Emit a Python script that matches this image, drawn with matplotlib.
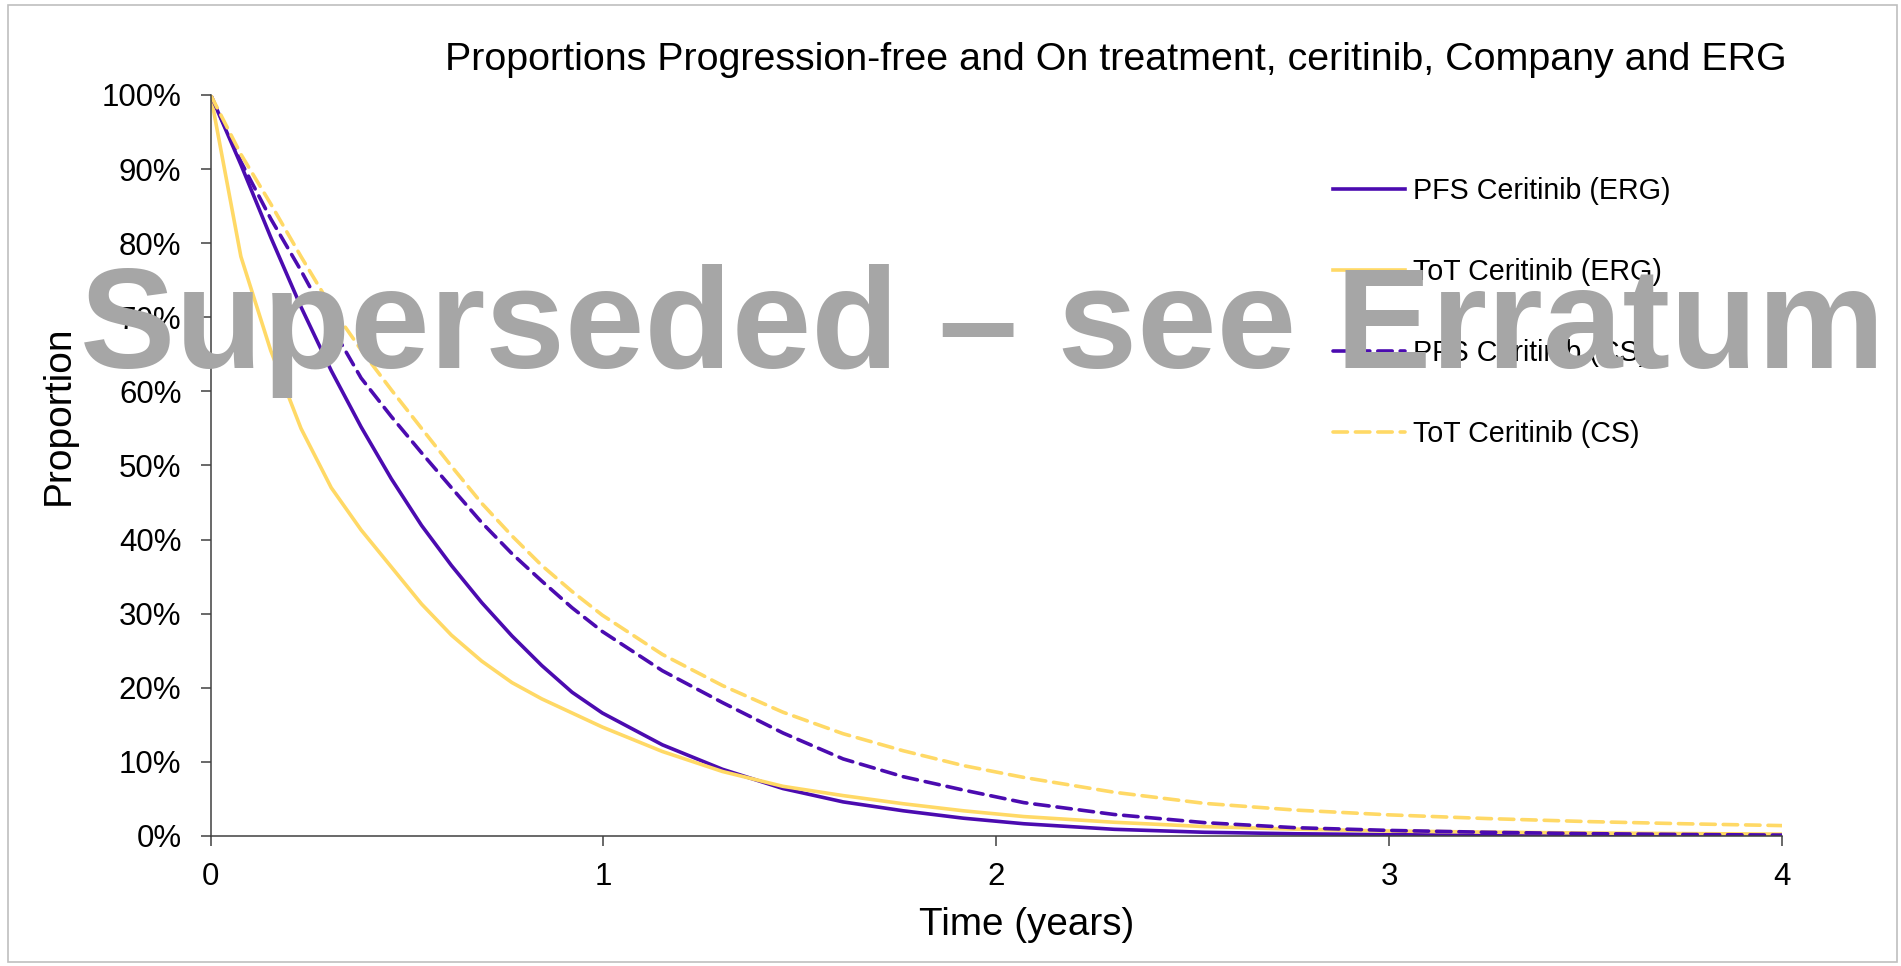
import matplotlib
matplotlib.use("Agg")
import matplotlib.pyplot as plt
from matplotlib.patches import Rectangle
from matplotlib.ticker import PercentFormatter

plt.rcParams['font.family'] = ['Liberation Sans', 'DejaVu Sans']

# time points (years), roughly 4-weekly cycles early on, coarser in the tail
time_years = [0, 0.077, 0.153, 0.23, 0.307, 0.383, 0.46, 0.537, 0.613, 0.69,
              0.767, 0.843, 0.92, 0.997, 1.15, 1.303, 1.457, 1.61, 1.763,
              1.916, 2.07, 2.3, 2.53, 2.76, 3.0, 3.25, 3.5, 3.75, 4.0]

# proportions (%)
pfs_erg = [100, 90.6, 80.8, 71.4, 62.8, 55.2, 48.2, 41.9, 36.5, 31.5,
           27.0, 23.0, 19.4, 16.6, 12.3, 9.0, 6.4, 4.6, 3.4,
           2.4, 1.65, 0.9, 0.5, 0.3, 0.18, 0.1, 0.06, 0.04, 0.02]
tot_erg = [100, 78.2, 65.5, 55.0, 47.0, 41.3, 36.3, 31.3, 27.1, 23.6,
           20.7, 18.5, 16.6, 14.7, 11.4, 8.7, 6.7, 5.45, 4.35,
           3.4, 2.62, 1.85, 1.27, 0.92, 0.67, 0.52, 0.40, 0.32, 0.25]
pfs_cs = [100, 91.0, 83.3, 76.3, 68.8, 61.8, 56.6, 51.7, 47.0, 42.3,
          38.1, 34.4, 30.8, 27.6, 22.3, 18.0, 13.9, 10.4, 8.0,
          6.2, 4.5, 2.9, 1.8, 1.12, 0.75, 0.5, 0.32, 0.2, 0.12]
tot_cs = [100, 92.0, 85.3, 78.2, 71.4, 65.6, 60.2, 55.0, 49.9, 44.9,
          40.5, 36.5, 33.0, 29.8, 24.5, 20.3, 16.7, 13.8, 11.5,
          9.5, 7.9, 5.9, 4.4, 3.5, 2.85, 2.35, 1.95, 1.65, 1.4]

series_labels = ["PFS Ceritinib (ERG)", "ToT Ceritinib (ERG)",
                 "PFS Ceritinib (CS)", "ToT Ceritinib (CS)"]

purple = '#4B0BB0'
yellow = '#FFD966'
axis_grey = '#404040'
line_w = 2.6
dash = (4.0, 2.2)

fig = plt.figure(figsize=(19.01, 9.66), dpi=100)
ax = fig.add_axes([0.1108, 0.1346, 0.8266, 0.7671])

# solid = ERG, dashed = company submission
ax.plot(time_years, pfs_erg, color=purple, lw=line_w, label=series_labels[0])
ax.plot(time_years, tot_erg, color=yellow, lw=line_w, label=series_labels[1])
ax.plot(time_years, pfs_cs, color=purple, lw=line_w, dashes=dash,
        dash_capstyle='round', label=series_labels[2])
ax.plot(time_years, tot_cs, color=yellow, lw=line_w, dashes=dash,
        dash_capstyle='round', label=series_labels[3])

ax.set_xlim(0, 4)
ax.set_ylim(0, 100)
ax.set_xticks([0, 1, 2, 3, 4])
ax.set_yticks(range(0, 101, 10))
ax.yaxis.set_major_formatter(PercentFormatter(decimals=0))

for side in ['top', 'right']:
    ax.spines[side].set_visible(False)
for side in ['left', 'bottom']:
    ax.spines[side].set_color(axis_grey)
    ax.spines[side].set_linewidth(1.1)

ax.tick_params(axis='both', direction='out', length=7, width=1.1,
               color=axis_grey, labelsize=22.5)
ax.tick_params(axis='y', pad=14)
ax.tick_params(axis='x', pad=12)

ax.set_xlabel('Time (years)', fontsize=27.8)
ax.set_ylabel('Proportion', fontsize=28)
ax.xaxis.set_label_coords(0.519, -0.096)
ax.yaxis.set_label_coords(-0.0855, 0.568)

fig.text(0.587, 0.928,
         'Proportions Progression-free and On treatment, ceritinib, Company and ERG',
         ha='center', va='baseline', fontsize=28.4)

ax.legend(loc='upper left', bbox_to_anchor=(0.7012, 0.817),
          bbox_transform=fig.transFigure, frameon=False, fontsize=20.6,
          borderpad=0, borderaxespad=0, handlelength=2.5,
          handletextpad=0.3, labelspacing=1.86)

# watermark across the plot
fig.text(0.5166, 0.619, 'Superseded \u2013 see Erratum', ha='center',
         va='baseline', fontsize=103, fontweight='bold', color='#A6A6A6')

# thin grey border round the chart area
fig.patches.append(Rectangle((8 / 1901, 4 / 966), 1889 / 1901, 957 / 966,
                             transform=fig.transFigure, fill=False,
                             edgecolor='#BFBFBF', lw=1.2))

fig.savefig('out.png', dpi=100)
